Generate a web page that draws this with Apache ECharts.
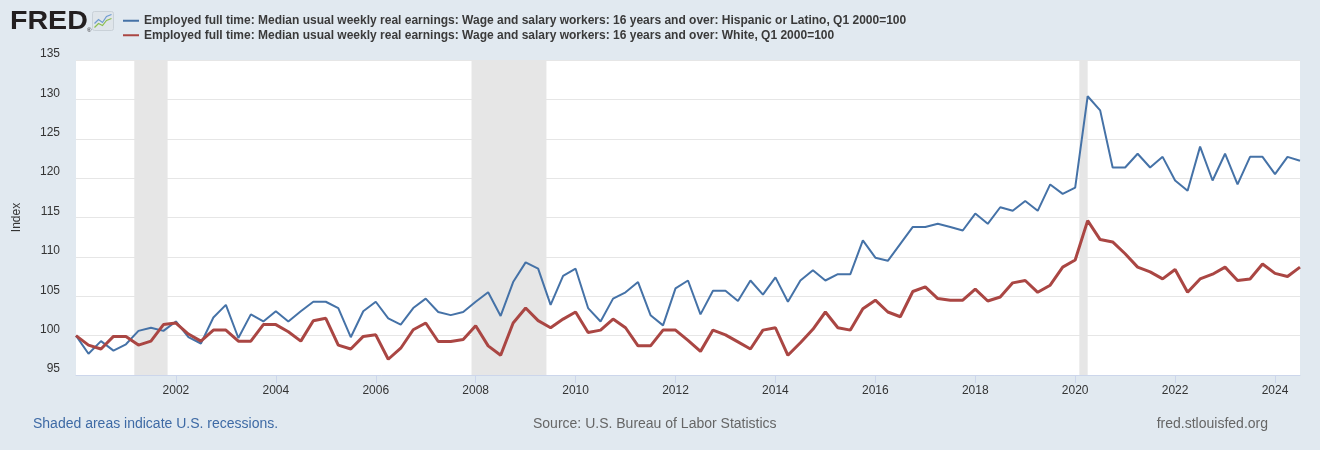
<!DOCTYPE html>
<html>
<head>
<meta charset="utf-8">
<script src="https://cdn.jsdelivr.net/npm/echarts@6/dist/echarts.min.js"></script>
<style>
html,body{margin:0;padding:0;background:#e1e9f0;}
#chart{width:1320px;height:450px;}
</style>
</head>
<body>
<div id="chart"></div>
<script>
// Quarterly data, Q1 2000 .. Q3 2024 (index, Q1 2000 = 100)
const startYear = 2000;
const hispanic = [
  100.0, 97.7, 99.3, 98.1, 98.9, 100.6, 101.0, 100.6, 101.8, 99.8, 99.0, 102.3, 103.9, 99.7, 102.7, 101.8,
  103.1, 101.8, 103.1, 104.3, 104.3, 103.5, 99.8, 103.1, 104.3,
  102.2, 101.4, 103.5, 104.7, 103.0, 102.6, 103.0, 104.3, 105.5, 102.5, 106.8, 109.3, 108.5, 103.9, 107.6,
  108.5, 103.5, 101.8, 104.7, 105.5, 106.8, 102.6, 101.3, 106.0,
  107.0, 102.7, 105.7, 105.7, 104.4, 107.0, 105.2, 107.4, 104.3, 107.0, 108.3, 107.0, 107.8, 107.8, 112.1,
  109.9, 109.5, 111.65, 113.8, 113.8, 114.2, 113.8, 113.35, 115.5, 114.2,
  116.3, 115.85, 117.1, 115.85, 119.2, 118.0, 118.8, 130.4, 128.6, 121.35, 121.35, 123.1, 121.35, 122.7,
  119.7, 118.4, 124.0, 119.7, 123.1, 119.2, 122.7, 122.7, 120.5, 122.7, 122.2
];
const white = [
  100.0, 98.8, 98.3, 99.9, 99.9, 98.8, 99.3, 101.4, 101.6, 100.2, 99.3, 100.7, 100.7, 99.3, 99.3, 101.4,
  101.4, 100.5, 99.3, 101.9, 102.2, 98.8, 98.3, 99.9, 100.1,
  97.0, 98.4, 100.75, 101.6, 99.25, 99.25, 99.5, 101.25, 98.7, 97.5, 101.6, 103.5, 101.9, 101.0, 102.1,
  103.0, 100.4, 100.7, 102.1, 101.0, 98.7, 98.7, 100.7, 100.7,
  99.4, 98.0, 100.7, 100.1, 99.2, 98.3, 100.7, 101.0, 97.5, 99.1, 100.8, 103.0, 101.0, 100.7, 103.4,
  104.5, 103.0, 102.4, 105.6, 106.2, 104.7, 104.5, 104.5, 105.9, 104.4,
  104.9, 106.7, 107.0, 105.5, 106.4, 108.7, 109.6, 114.6, 112.2, 111.9, 110.4, 108.7, 108.1, 107.2,
  108.4, 105.5, 107.2, 107.8, 108.7, 107.0, 107.2, 109.1, 107.9, 107.5, 108.7
];
const recessionStarts = ['2001-03', '2007-12', '2020-02'];
const recessionEnds   = ['2001-11', '2009-06', '2020-04'];
const xTickYears = [2002, 2004, 2006, 2008, 2010, 2012, 2014, 2016, 2018, 2020, 2022, 2024];
const yTicks = [95, 100, 105, 110, 115, 120, 125, 130, 135];
const seriesNames = [
  'Employed full time: Median usual weekly real earnings: Wage and salary workers: 16 years and over: Hispanic or Latino, Q1 2000=100',
  'Employed full time: Median usual weekly real earnings: Wage and salary workers: 16 years and over: White, Q1 2000=100'
];

function ym(s) { const p = s.split('-'); return +p[0] + (+p[1] - 1) / 12; }
function toPairs(arr) { return arr.map((v, i) => [startYear + i / 4, v]); }

const FONT = '"Liberation Sans", Arial, sans-serif';
const chart = echarts.init(document.getElementById('chart'), null, { renderer: 'canvas' });

chart.setOption({
  animation: false,
  backgroundColor: '#e1e9f0',
  textStyle: { fontFamily: FONT },
  grid: { left: 76, right: 20, top: 60, bottom: 75, show: true, backgroundColor: '#ffffff', borderWidth: 0 },
  legend: {
    data: seriesNames,
    orient: 'vertical',
    left: 123, top: 14, padding: 0,
    itemWidth: 16, itemHeight: 2, itemGap: 1,
    icon: 'rect',
    textStyle: { color: '#3a3a3a', fontSize: 12, fontWeight: 'bold', fontFamily: FONT, lineHeight: 13.5 },
    selectedMode: false
  },
  xAxis: {
    type: 'value',
    min: startYear, max: startYear + (hispanic.length - 1) / 4,
    interval: 2,
    splitLine: { show: false },
    axisLine: { lineStyle: { color: '#ccd6eb', width: 1 } },
    axisTick: { show: true, customValues: xTickYears, length: 8, lineStyle: { color: '#ccd6eb' } },
    axisLabel: { customValues: xTickYears, formatter: v => String(v), color: '#333333', fontSize: 12, margin: 10 }
  },
  yAxis: {
    type: 'value',
    min: yTicks[0], max: yTicks[yTicks.length - 1], interval: 5,
    name: 'Index', nameLocation: 'middle', nameGap: 53,
    nameTextStyle: { color: '#333333', fontSize: 12 },
    axisLine: { show: false }, axisTick: { show: false },
    splitLine: { lineStyle: { color: '#e6e6e6', width: 1 } },
    axisLabel: { color: '#333333', fontSize: 12, margin: 16, verticalAlign: 'bottom' }
  },
  series: [
    {
      name: 'recessions', type: 'line', data: [], z: 1, silent: true,
      markArea: {
        silent: true,
        itemStyle: { color: '#e6e6e6' },
        data: recessionStarts.map((s, i) => [{ xAxis: ym(s) }, { xAxis: ym(recessionEnds[i]) }])
      }
    },
    {
      name: seriesNames[0], type: 'line', data: toPairs(hispanic), z: 3,
      showSymbol: false, color: '#4572a7',
      lineStyle: { width: 2, color: '#4572a7' }
    },
    {
      name: seriesNames[1], type: 'line', data: toPairs(white), z: 4,
      showSymbol: false, color: '#aa4643',
      lineStyle: { width: 3, color: '#aa4643' }
    }
  ],
  graphic: [
    { type: 'text', left: 10, top: 9, scaleX: 1.1, style: { text: 'FRED', font: '900 26px ' + FONT, fill: '#231f20' } },
    { type: 'text', left: 87, top: 27, style: { text: '®', font: '6px ' + FONT, fill: '#231f20' } },
    { type: 'group', left: 92, top: 11, children: [
      { type: 'rect', shape: { x: 0, y: 0, width: 21, height: 19, r: 2 }, style: { fill: '#dfe5ea', stroke: '#c9d1d8', lineWidth: 1 } },
      { type: 'polyline', shape: { points: [[2, 12], [6, 8], [10, 11], [14, 5], [19, 3]] }, style: { stroke: '#6f9bd0', lineWidth: 1.2, fill: null } },
      { type: 'polyline', shape: { points: [[2, 16], [6, 12], [10, 14], [14, 9], [19, 7]] }, style: { stroke: '#8cbf4f', lineWidth: 1.2, fill: null } }
    ] },
    { type: 'text', left: 33, top: 417, style: { text: 'Shaded areas indicate U.S. recessions.', font: '14px ' + FONT, fill: '#3e6aa5' } },
    { type: 'text', left: 533, top: 417, style: { text: 'Source: U.S. Bureau of Labor Statistics', font: '14px ' + FONT, fill: '#666666' } },
    { type: 'text', right: 52, top: 417, style: { text: 'fred.stlouisfed.org', font: '14px ' + FONT, fill: '#666666' } }
  ]
});
</script>
</body>
</html>
